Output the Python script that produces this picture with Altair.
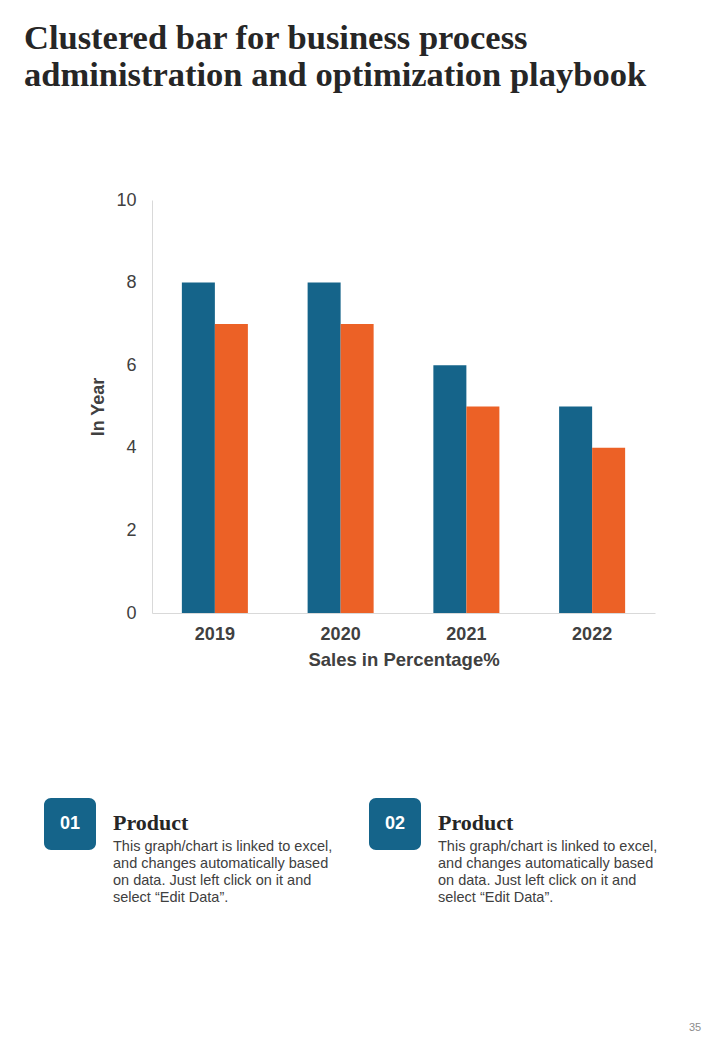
import altair as alt
import pandas as pd

years = ["2019", "2020", "2021", "2022"]
series_names = ["Series 1", "Series 2"]
series1 = [8, 8, 6, 5]
series2 = [7, 7, 5, 4]
colors = ["#15648a", "#ec6126"]

title_lines = ["Clustered bar for business process",
               "administration and optimization playbook"]
y_title = "In Year"
x_title = "Sales in Percentage%"
y_ticks = [0, 2, 4, 6, 8, 10]
box_labels = ["01", "02"]
box_heads = ["Product", "Product"]
box_text = ["This graph/chart is linked to excel,",
            "and changes automatically based",
            "on data. Just left click on it and",
            "select \u201cEdit Data\u201d."]
page_number = "35"

rows = []
for i, y in enumerate(years):
    rows.append({"year": y, "series": series_names[0], "value": series1[i]})
    rows.append({"year": y, "series": series_names[1], "value": series2[i]})
df = pd.DataFrame(rows)

OX, OY = 152, 200  # plot origin in page coords
W, H = 503, 413

bars = alt.Chart(df).mark_bar().encode(
    x=alt.X("year:N", sort=years,
            scale=alt.Scale(paddingInner=0.475, paddingOuter=0.2375),
            axis=alt.Axis(title=x_title, labelAngle=0, labelFontSize=18,
                          labelFontWeight="bold", labelColor="#404040",
                          labelPadding=12, titleFontSize=18.5,
                          titleFontWeight="bold", titleColor="#404040",
                          titlePadding=7, ticks=False, domainColor="#d9d9d9",
                          labelFont="Liberation Sans", titleFont="Liberation Sans")),
    xOffset=alt.XOffset("series:N", sort=series_names,
                        scale=alt.Scale(paddingInner=0, paddingOuter=0)),
    y=alt.Y("value:Q", scale=alt.Scale(domain=[0, 10], nice=False),
            axis=alt.Axis(title=y_title, values=y_ticks, labelFontSize=18,
                          labelColor="#404040", labelPadding=16, ticks=False,
                          grid=False, domainColor="#d9d9d9", titleFontSize=18,
                          titleFontWeight="bold", titleColor="#404040",
                          titlePadding=8, labelFont="Liberation Sans",
                          titleFont="Liberation Sans")),
    color=alt.Color("series:N", sort=series_names,
                    scale=alt.Scale(domain=series_names, range=colors),
                    legend=None),
)

one = pd.DataFrame({"k": [0]})

layers = [bars]

# Title
layers.append(alt.Chart(one).mark_text(
    text=title_lines, align="left", baseline="alphabetic",
    font="Liberation Serif", fontWeight="bold", fontSize=34.5,
    lineHeight=37, color="#262626"
).encode(x=alt.value(24 - OX), y=alt.value(49 - OY)))

for j, bx in enumerate([44, 369]):
    layers.append(alt.Chart(one).mark_rect(
        color=colors[0], cornerRadius=7
    ).encode(x=alt.value(bx - OX), x2=alt.value(bx + 52 - OX),
             y=alt.value(798 - OY), y2=alt.value(850 - OY)))
    layers.append(alt.Chart(one).mark_text(
        text=box_labels[j], align="center", baseline="middle",
        font="Liberation Sans", fontWeight="bold", fontSize=18, color="white"
    ).encode(x=alt.value(bx + 26 - OX), y=alt.value(824 - OY)))
    layers.append(alt.Chart(one).mark_text(
        text=box_heads[j], align="left", baseline="alphabetic",
        font="Liberation Serif", fontWeight="bold", fontSize=22, color="#262626"
    ).encode(x=alt.value(bx + 69 - OX), y=alt.value(830 - OY)))
    layers.append(alt.Chart(one).mark_text(
        text=box_text, align="left", baseline="alphabetic",
        font="Liberation Sans", fontSize=14.5, lineHeight=17, color="#404040"
    ).encode(x=alt.value(bx + 69 - OX), y=alt.value(851 - OY)))

layers.append(alt.Chart(one).mark_text(
    text=page_number, align="center", baseline="middle",
    font="Liberation Sans", fontSize=11, color="#8c8c8c"
).encode(x=alt.value(695 - OX), y=alt.value(1028 - OY)))

chart = alt.layer(*layers).properties(
    width=W, height=H,
    autosize=alt.AutoSizeParams(type="none"),
    padding={"left": OX - 8, "top": OY - 8, "right": 704 - (OX - 8) - W,
             "bottom": 1024 - (OY - 8) - H},
    background="white",
).configure_view(stroke=None)

chart.save("out.html", embed_options={"renderer": "svg", "actions": False})
